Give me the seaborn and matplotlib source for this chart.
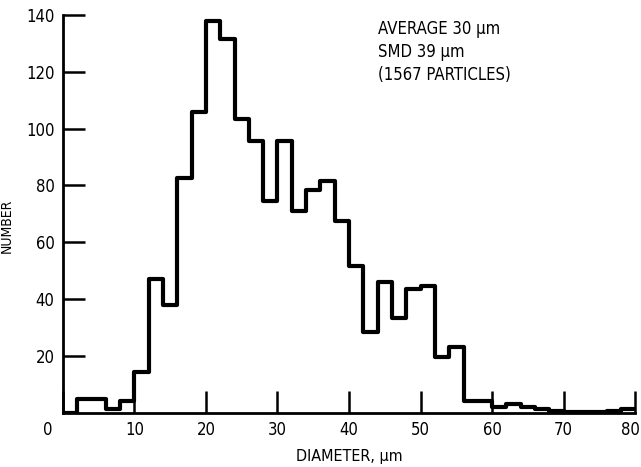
import numpy as np
import pandas as pd
import seaborn as sns
import matplotlib.pyplot as plt
import matplotlib.transforms as mtransforms

# particle size histogram, 2 um bins from 0 to 80
bin_edges = [0, 2, 4, 6, 8, 10, 12, 14, 16, 18, 20, 22, 24, 26, 28, 30, 32, 34, 36, 38,
             40, 42, 44, 46, 48, 50, 52, 54, 56, 58, 60, 62, 64, 66, 68, 70, 72, 74, 76, 78, 80]
counts = [0, 5, 5, 1.5, 4, 14.5, 47, 38, 82.5, 106,
          138, 131.5, 103.5, 95.5, 74.5, 95.5, 71, 78.5, 81.5, 67.5,
          51.5, 28.5, 46, 33.5, 43.5, 44.5, 19.5, 23, 4, 4,
          2, 3, 2, 1.5, 0.5, 0.3, 0.3, 0.3, 0.8, 1.5]
x_ticks = [0, 10, 20, 30, 40, 50, 60, 70, 80]
y_ticks = [20, 40, 60, 80, 100, 120, 140]
notes = ['AVERAGE 30 μm', 'SMD 39 μm', '(1567 PARTICLES)']

df = pd.DataFrame({'diameter': [(a + b) / 2 for a, b in zip(bin_edges[:-1], bin_edges[1:])],
                   'count': counts})

sns.set_style('ticks')
plt.rcParams['font.family'] = ['DejaVu Sans']
plt.rcParams['font.stretch'] = 'condensed'
plt.rcParams['text.color'] = 'black'
plt.rcParams['axes.labelcolor'] = 'black'

fig = plt.figure(figsize=(6.41, 4.67), dpi=100)
ax = fig.add_axes([0.098, 0.116, 0.893, 0.852])

sns.histplot(data=df, x='diameter', weights='count', bins=bin_edges, element='step',
             fill=False, color='black', linewidth=3, ax=ax)

ax.set_xlim(0, 80)
ax.set_ylim(0, 140)
ax.set_xticks(x_ticks)
ax.set_yticks(y_ticks)
ax.tick_params(axis='both', direction='in', length=16, width=1.8, colors='black',
               labelsize=12, pad=6)
sns.despine(ax=ax)
for side in ['left', 'bottom']:
    ax.spines[side].set_linewidth(2)
    ax.spines[side].set_color('black')

# the shared "0" sits left of the corner in the original, "80" hugs the edge
xlabs = ax.get_xticklabels()
xlabs[0].set_transform(xlabs[0].get_transform() +
                       mtransforms.ScaledTranslation(-0.15, 0, fig.dpi_scale_trans))
xlabs[-1].set_transform(xlabs[-1].get_transform() +
                        mtransforms.ScaledTranslation(-0.05, 0, fig.dpi_scale_trans))

ax.set_xlabel('DIAMETER, μm', fontsize=11.5)
ax.set_ylabel('NUMBER', fontsize=10)
ax.xaxis.set_label_coords(0.5, -0.09)
ax.yaxis.set_label_coords(-0.085, 0.47)

for i, line in enumerate(notes):
    ax.text(44, 135 - i * 8, line, fontsize=12, va='center', ha='left')

plt.savefig('out.png', dpi=100)
